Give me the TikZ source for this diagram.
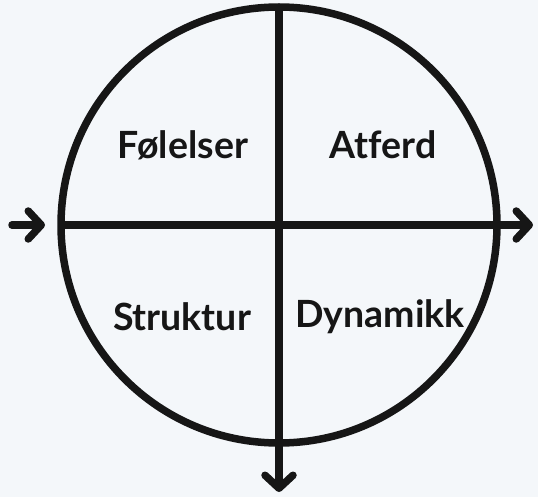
\documentclass[tikz,border=0pt]{standalone}
\usepackage{fontspec}
\setmainfont[Ligatures=NoCommon]{Lato}
\usetikzlibrary{arrows.meta}
\definecolor{bg}{RGB}{244,247,250}
\definecolor{ink}{RGB}{22,22,22}
\begin{document}
\begin{tikzpicture}[x=1pt,y=-1pt,
  axis/.style={draw=ink,line width=7.5pt,line cap=round},
  arr/.style={axis,-{Straight Barb[length=13pt,width=28pt,line width=7.5pt,round]}},
  lbl/.style={font=\fontsize{37.5}{44}\selectfont\bfseries,text=ink,inner sep=0pt}]
\fill[bg] (0,0) rectangle (538,497);
\useasboundingbox (0,0) rectangle (538,497);
\node[circle,draw=ink,line width=7.5pt,minimum size=436pt,inner sep=0pt,outer sep=0pt] (c) at (279,225) {};
\coordinate (lstart) at (12,225);
\coordinate (lend) at (45,225);
\coordinate (rend) at (533,225);
\coordinate (bend) at (279,492);
\draw[arr] (lstart) -- (lend);
\draw[arr,line cap=butt] (c.west) -- (rend);
\draw[arr,line cap=butt] (c.north) -- (bend);
\node[lbl] (f) at (183,145) {Følelser};
\node[lbl] (a) at (383,145) {Atferd};
\node[lbl] (s) at (182,317) {Struktur};
\node[lbl] (d) at (380,317) {Dynamikk};
\end{tikzpicture}
\end{document}
